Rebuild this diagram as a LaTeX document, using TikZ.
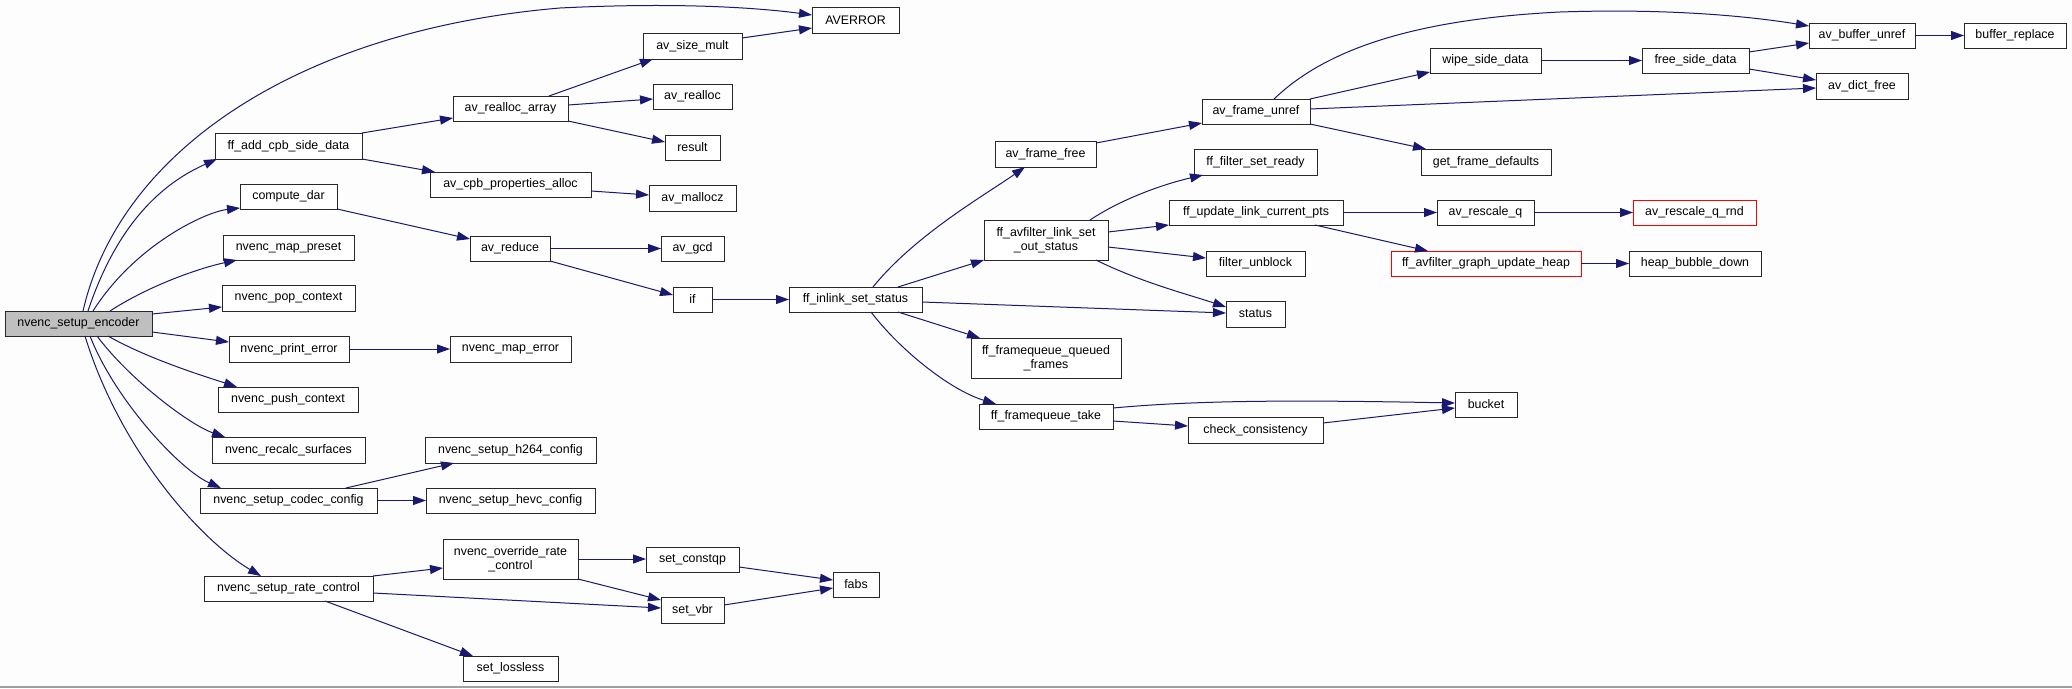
\documentclass[tikz,border=0pt]{standalone}
\usepackage{fontspec}
\setmainfont{Liberation Sans}
\usetikzlibrary{arrows.meta,calc}
\definecolor{edgeblue}{RGB}{25,25,112}
\definecolor{boxgrey}{RGB}{191,191,191}
\definecolor{bgc}{RGB}{252,253,252}
\definecolor{bordc}{RGB}{40,40,40}
\definecolor{redb}{RGB}{255,0,0}
\newcommand{\gnode}[7][]{\node[cgbox,#1,minimum width={#5-#3},minimum height={#6-#4}] (#2) at ({(#3+#5)/2},{(#4+#6)/2}) {#7};}
\tikzset{
  cgbox/.style={draw=bordc,line width=1pt,fill=white,inner sep=0pt,outer sep=0pt,align=center,
    font=\fontsize{12.4}{13.5}\selectfont},
  hot/.style={fill=boxgrey},
  redbox/.style={draw=redb},
  cg/.style={draw=edgeblue,line width=1pt,-{Triangle[length=13pt,width=9pt]}}
}
\begin{document}
\begin{tikzpicture}[x=1pt,y=-1pt]
\useasboundingbox (0,0) rectangle (2072,688);
\fill[bgc] (0,0) rectangle (2072,688);
\draw[line width=1.5pt,draw={rgb,255:red,160;green,160;blue,160}] (0,687) -- (2072,687);
% nodes
\gnode[hot]{enc}{5}{311}{152}{336}{nvenc\_setup\_encoder}
\gnode{averror}{812}{7}{899}{33}{AVERROR}
\gnode{fac}{215}{133}{362}{159}{ff\_add\_cpb\_side\_data}
\gnode{cdar}{240}{184}{337}{209}{compute\_dar}
\gnode{mpreset}{223}{235}{354}{260}{nvenc\_map\_preset}
\gnode{popctx}{222}{285}{355}{311}{nvenc\_pop\_context}
\gnode{perr}{229}{336}{349}{362}{nvenc\_print\_error}
\gnode{pushctx}{218}{387}{358}{412}{nvenc\_push\_context}
\gnode{recalc}{212}{437}{365}{463}{nvenc\_recalc\_surfaces}
\gnode{codec}{200}{488}{377}{513}{nvenc\_setup\_codec\_config}
\gnode{ratec}{204}{576}{373}{601}{nvenc\_setup\_rate\_control}
\gnode{rarr}{453}{96}{568}{121}{av\_realloc\_array}
\gnode{cpbal}{430}{172}{591}{197}{av\_cpb\_properties\_alloc}
\gnode{avred}{470}{236}{550}{261}{av\_reduce}
\gnode{merr}{450}{336}{571}{362}{nvenc\_map\_error}
\gnode{h264}{425}{437}{596}{463}{nvenc\_setup\_h264\_config}
\gnode{hevc}{426}{488}{595}{513}{nvenc\_setup\_hevc\_config}
\gnode{override}{443}{539}{578}{579}{nvenc\_override\_rate\\\_control}
\gnode{lossless}{463}{656}{558}{681}{set\_lossless}
\gnode{sizemult}{643}{33}{742}{59}{av\_size\_mult}
\gnode{realloc}{653}{84}{732}{109}{av\_realloc}
\gnode{result}{665}{135}{720}{160}{result}
\gnode{mallocz}{649}{185}{736}{211}{av\_mallocz}
\gnode{gcd}{661}{236}{724}{261}{av\_gcd}
\gnode{iff}{673}{287}{712}{312}{if}
\gnode{constqp}{646}{547}{739}{572}{set\_constqp}
\gnode{vbr}{661}{597}{724}{623}{set\_vbr}
\gnode{fabs}{833}{572}{879}{597}{fabs}
\gnode{inlink}{789}{287}{922}{312}{ff\_inlink\_set\_status}
\gnode{fffree}{995}{141}{1096}{167}{av\_frame\_free}
\gnode{outst}{984}{220}{1108}{260}{ff\_avfilter\_link\_set\\\_out\_status}
\gnode{qframes}{971}{338}{1121}{378}{ff\_framequeue\_queued\\\_frames}
\gnode{fqtake}{979}{404}{1113}{429}{ff\_framequeue\_take}
\gnode{funref}{1202}{99}{1310}{124}{av\_frame\_unref}
\gnode{setready}{1194}{149}{1317}{175}{ff\_filter\_set\_ready}
\gnode{updpts}{1169}{200}{1343}{225}{ff\_update\_link\_current\_pts}
\gnode{unblock}{1206}{251}{1305}{276}{filter\_unblock}
\gnode{status}{1226}{301}{1285}{327}{status}
\gnode{check}{1188}{417}{1323}{443}{check\_consistency}
\gnode{bucket}{1455}{392}{1517}{417}{bucket}
\gnode{wipe}{1430}{48}{1541}{73}{wipe\_side\_data}
\gnode{getdef}{1421}{149}{1551}{175}{get\_frame\_defaults}
\gnode{rescq}{1437}{200}{1534}{225}{av\_rescale\_q}
\gnode[redbox]{heap}{1391}{251}{1581}{276}{ff\_avfilter\_graph\_update\_heap}
\gnode{freesd}{1642}{48}{1749}{73}{free\_side\_data}
\gnode[redbox]{rnd}{1633}{200}{1756}{225}{av\_rescale\_q\_rnd}
\gnode{bubble}{1629}{251}{1761}{276}{heap\_bubble\_down}
\gnode{bufunref}{1809}{23}{1915}{48}{av\_buffer\_unref}
\gnode{dictfree}{1816}{73}{1908}{99}{av\_dict\_free}
\gnode{bufrep}{1964}{23}{2066}{48}{buffer\_replace}
% edges from encoder
\draw[cg] ($(enc.north west)+(78,0)$) .. controls (120,150) and (300,30) .. (560,8)
          .. controls (680,2) and (760,8) .. ($(averror.north west)+(0,8)$);
\draw[cg] ($(enc.north west)+(83,0)$) .. controls (120,215) and (170,180) .. ($(fac.south west)+(2,0)$);
\draw[cg] ($(enc.north west)+(88,0)$) .. controls (135,245) and (205,212) .. ($(cdar.south west)+(0,-1)$);
\draw[cg] ($(enc.north west)+(105,0)$) .. controls (150,285) and (200,268) .. ($(mpreset.south west)+(14,0)$);
\draw[cg] ($(enc.north east)+(0,3)$) -- ($(popctx.north west)+(0,22)$);
\draw[cg] ($(enc.north east)+(0,21)$) -- ($(perr.north west)+(0,6)$);
\draw[cg] ($(enc.south west)+(103,0)$) .. controls (150,360) and (210,378) .. ($(pushctx.north west)+(19,0)$);
\draw[cg] ($(enc.south west)+(92,0)$) .. controls (130,380) and (190,425) .. ($(recalc.north west)+(13,0)$);
\draw[cg] ($(enc.south west)+(85,0)$) .. controls (115,400) and (180,470) .. ($(codec.north west)+(21,0)$);
\draw[cg] ($(enc.south west)+(80,0)$) .. controls (120,450) and (200,540) .. ($(ratec.north west)+(57,0)$);
% second level
\draw[cg] (fac.north east) -- ($(rarr.south west)+(0,-3)$);
\draw[cg] (fac.south east) -- ($(cpbal.north west)+(5,0)$);
\draw[cg] ($(rarr.north west)+(96,0)$) -- ($(sizemult.south west)+(10,0)$);
\draw[cg] ($(rarr.north east)+(0,9)$) -- ($(realloc.north west)+(0,15)$);
\draw[cg] (rarr.south east) -- ($(result.north west)+(0,7)$);
\draw[cg] ($(sizemult.north east)+(0,5)$) -- ($(averror.north west)+(0,21)$);
\draw[cg] ($(cpbal.north east)+(0,19)$) -- ($(mallocz.north west)+(0,10)$);
\draw[cg] (cdar.south east) -- ($(avred.north west)+(0,3)$);
\draw[cg] (avred.east) -- (gcd.west);
\draw[cg] (avred.south east) -- ($(iff.north west)+(0,8)$);
\draw[cg] (iff.east) -- (inlink.west);
\draw[cg] (perr.east) -- (merr.west);
\draw[cg] ($(codec.north west)+(146,0)$) -- ($(h264.south west)+(29,0)$);
\draw[cg] (codec.east) -- (hevc.west);
\draw[cg] (ratec.north east) -- ($(override.north west)+(0,29)$);
\draw[cg] ($(ratec.north east)+(0,17)$) -- ($(vbr.north west)+(0,11)$);
\draw[cg] ($(ratec.south west)+(121,0)$) -- ($(lossless.north west)+(10,0)$);
\draw[cg] ($(override.north east)+(0,20)$) -- ($(constqp.north west)+(0,12)$);
\draw[cg] (override.south east) -- ($(vbr.north west)+(0,3)$);
\draw[cg] ($(constqp.north east)+(0,20)$) -- ($(fabs.north west)+(0,8)$);
\draw[cg] ($(vbr.north east)+(0,8)$) -- ($(fabs.north west)+(0,16)$);
% inlink
\draw[cg] ($(inlink.north west)+(84,0)$) .. controls (915,235) and (985,195) .. ($(fffree.south west)+(30,0)$);
\draw[cg] ($(inlink.north west)+(109,0)$) -- (outst.south west);
\draw[cg] ($(inlink.north east)+(0,15)$) -- ($(status.north west)+(0,12)$);
\draw[cg] ($(inlink.south west)+(109,0)$) -- ($(qframes.north west)+(9,0)$);
\draw[cg] ($(inlink.south west)+(82,0)$) .. controls (900,350) and (950,390) .. ($(fqtake.north west)+(17,0)$);
\draw[cg] ($(fffree.north east)+(0,2)$) -- ($(funref.south west)+(0,-1)$);
% frame unref
\draw[cg] ($(funref.north west)+(72,0)$) .. controls (1320,55) and (1400,20) .. (1560,12)
          .. controls (1680,8) and (1760,18) .. ($(bufunref.north west)+(0,3)$);
\draw[cg] (funref.north east) -- ($(wipe.south west)+(0,-1)$);
\draw[cg] ($(funref.north east)+(0,10)$) -- ($(dictfree.north west)+(0,15)$);
\draw[cg] (funref.south east) -- ($(getdef.north west)+(5,0)$);
\draw[cg] (wipe.east) -- (freesd.west);
\draw[cg] ($(freesd.north east)+(0,4)$) -- ($(bufunref.north west)+(0,20)$);
\draw[cg] ($(freesd.north east)+(0,21)$) -- ($(dictfree.north west)+(0,7)$);
\draw[cg] (bufunref.east) -- (bufrep.west);
% out status
\draw[cg] ($(outst.north west)+(106,0)$) .. controls (1120,200) and (1160,185) .. ($(setready.south west)+(9,0)$);
\draw[cg] ($(outst.north east)+(0,12)$) -- (updpts.south west);
\draw[cg] ($(outst.north east)+(0,27)$) -- ($(unblock.north west)+(0,7)$);
\draw[cg] ($(outst.south west)+(112,0)$) .. controls (1140,282) and (1190,295) .. ($(status.north west)+(0,6)$);
\draw[cg] (updpts.east) -- (rescq.west);
\draw[cg] ($(updpts.south west)+(146,0)$) -- ($(heap.north west)+(37,0)$);
\draw[cg] (rescq.east) -- (rnd.west);
\draw[cg] (heap.east) -- (bubble.west);
% framequeue
\draw[cg] ($(fqtake.north east)+(0,4)$) .. controls (1200,400) and (1300,400) .. ($(bucket.north west)+(0,11)$);
\draw[cg] ($(fqtake.north east)+(0,17)$) -- ($(check.north west)+(0,9)$);
\draw[cg] ($(check.north east)+(0,6)$) -- ($(bucket.north west)+(0,16)$);
\end{tikzpicture}
\end{document}
